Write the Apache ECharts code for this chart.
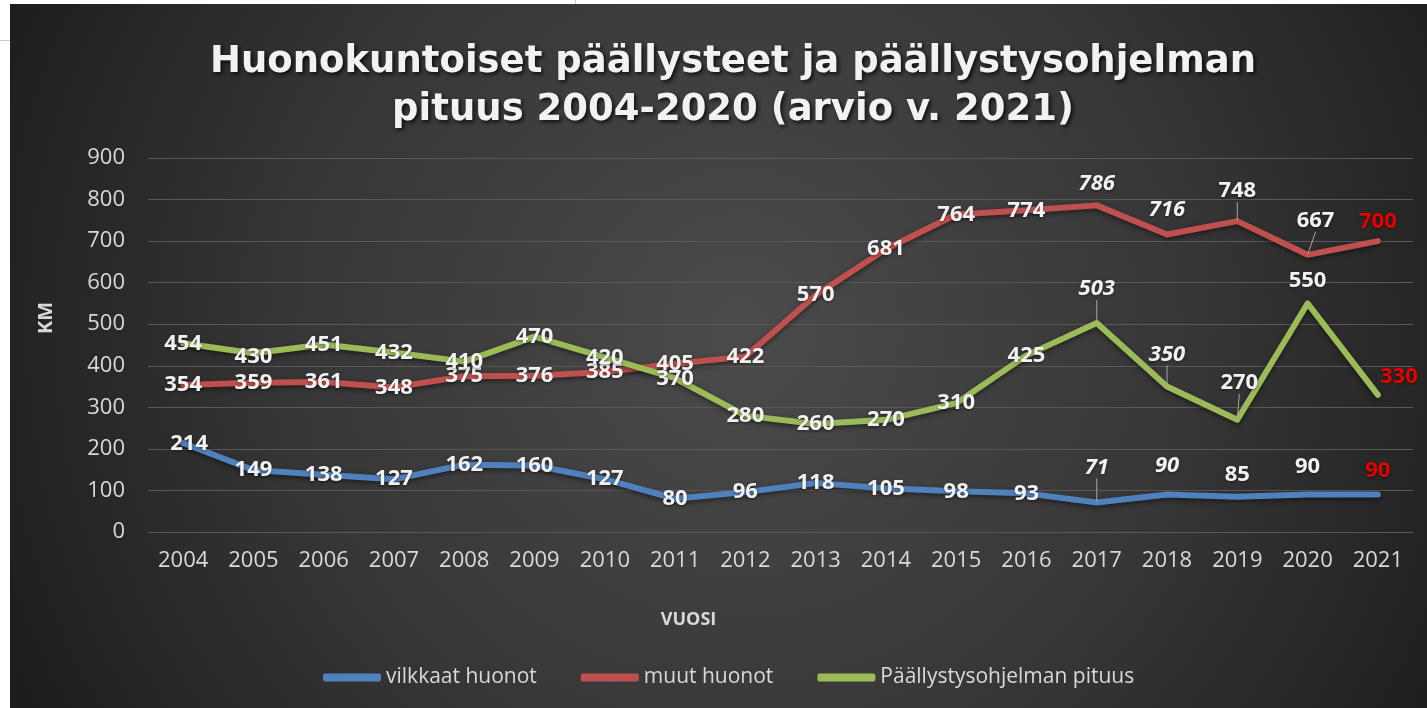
<!DOCTYPE html>
<html>
<head>
<meta charset="utf-8">
<script src="https://cdn.jsdelivr.net/npm/echarts@6/dist/echarts.min.js"></script>
<style>
html,body{margin:0;padding:0;background:#fff;}
#c{position:absolute;left:0;top:0;width:1427px;height:708px;}
</style>
</head>
<body>
<div id="c"></div>
<script>
// ---- data ----
const years = ['2004','2005','2006','2007','2008','2009','2010','2011','2012','2013','2014','2015','2016','2017','2018','2019','2020','2021'];
const vilkkaat = [214,149,138,127,162,160,127,80,96,118,105,98,93,71,90,85,90,90];
const muut = [354,359,361,348,375,376,385,405,422,570,681,764,774,786,716,748,667,700];
const ohjelma = [454,430,451,432,410,470,420,370,280,260,270,310,425,503,350,270,550,330];
const seriesNames = ['vilkkaat huonot','muut huonot','Päällystysohjelman pituus'];
const yTicks = [0,100,200,300,400,500,600,700,800,900];

// ---- label styling (not data) ----
const italicYears = ['2017','2018'];
const redYears = ['2021'];
const labelShift = {
  'vilkkaat huonot': {0:[6,1],13:[0,-35],14:[0,-29],15:[0,-22],16:[0,-28],17:[0,-24]},
  'muut huonot': {13:[0,-22],14:[0,-25],15:[0,-30],16:[8,-34],17:[0,-19]},
  'Päällystysohjelman pituus': {1:[0,3],13:[0,-34],14:[0,-32],15:[2,-37],16:[0,-23],17:[21,-18]}
};
const leaderLines = {
  'vilkkaat huonot': [13],
  'muut huonot': [15,16],
  'Päällystysohjelman pituus': [13,14,15]
};
const colors = ['#4f81bd','#c0504d','#9bbb59'];

const FONT = '"Open Sans", "Noto Sans", sans-serif';

function buildData(name, values) {
  return values.map((v, i) => {
    const y = years[i];
    const item = { value: v, label: {} };
    if (italicYears.includes(y)) item.label.fontStyle = 'italic';
    if (redYears.includes(y)) item.label.color = '#e60000';
    if (leaderLines[name].includes(i)) item.labelLine = { show: true };
    return item;
  });
}

function makeSeries(name, values, color) {
  return {
    name: name,
    type: 'line',
    data: buildData(name, values),
    symbol: 'circle',
    symbolSize: 1,
    showSymbol: true,
    smooth: false,
    lineStyle: { color: color, width: 6, cap: 'round', join: 'round',
      shadowColor: 'rgba(0,0,0,0.5)', shadowBlur: 5, shadowOffsetY: 2 },
    itemStyle: { color: color },
    label: {
      show: true,
      position: 'inside',
      color: '#f2f2f2',
      fontFamily: FONT,
      fontWeight: 'bold',
      fontSize: 22,
      textShadowColor: 'rgba(0,0,0,0.45)',
      textShadowBlur: 3,
      textShadowOffsetY: 1
    },
    labelLine: { show: false, lineStyle: { color: '#a6a6a6', width: 1 }, length2: 0 },
    labelLayout: function (p) {
      const s = labelShift[name][p.dataIndex];
      if (!s) return {};
      return { dx: s[0], dy: s[1] };
    },
    emphasis: { disabled: true }
  };
}

const chart = echarts.init(document.getElementById('c'), null, { renderer: 'canvas' });
chart.setOption({
  backgroundColor: '#ffffff',
  animation: false,
  graphic: [
    { type: 'rect', z: -10, silent: true,
      shape: { x: 10, y: 4, width: 1417, height: 704 },
      style: { fill: { type: 'radial', x: 740, y: 330, r: 820, global: true,
        colorStops: [ { offset: 0, color: '#4b4b4b' }, { offset: 0.55, color: '#363636' }, { offset: 1, color: '#1c1c1c' } ] } } },
    { type: 'rect', z: -10, silent: true, shape: { x: 0, y: 40, width: 10, height: 1 }, style: { fill: '#c8c8c8' } },
    { type: 'rect', z: -10, silent: true, shape: { x: 575, y: 0, width: 1, height: 4 }, style: { fill: '#c8c8c8' } }
  ],
  title: {
    text: 'Huonokuntoiset päällysteet ja päällystysohjelman\npituus 2004-2020 (arvio v. 2021)',
    left: 728,
    textAlign: 'center',
    top: 33,
    textStyle: {
      color: '#f2f2f2', fontFamily: '"DejaVu Sans", sans-serif', fontWeight: 'bold', fontSize: 37, lineHeight: 48,
      textShadowColor: 'rgba(0,0,0,0.8)', textShadowBlur: 4, textShadowOffsetX: 2, textShadowOffsetY: 2
    }
  },
  legend: {
    data: seriesNames,
    left: 318,
    top: 662,
    icon: 'roundRect',
    itemWidth: 58,
    itemHeight: 8,
    itemGap: 44,
    textStyle: { color: '#d9d9d9', fontFamily: FONT, fontSize: 21 }
  },
  grid: { left: 148, right: 14, top: 158, bottom: 176, containLabel: false },
  xAxis: {
    type: 'category',
    data: years,
    boundaryGap: true,
    name: 'VUOSI',
    nameLocation: 'middle',
    nameGap: 79,
    nameTextStyle: { color: '#d9d9d9', fontFamily: FONT, fontWeight: 'bold', fontSize: 18, padding: [0, 184, 0, 0] },
    axisLine: { show: true, lineStyle: { color: '#595959', width: 1 } },
    axisTick: { show: false },
    axisLabel: { color: '#d9d9d9', fontFamily: FONT, fontSize: 22, margin: 18 }
  },
  yAxis: {
    type: 'value',
    min: yTicks[0],
    max: yTicks[yTicks.length - 1],
    interval: 100,
    name: 'KM',
    nameLocation: 'middle',
    nameGap: 92,
    nameRotate: 90,
    nameTextStyle: { color: '#d9d9d9', fontFamily: FONT, fontWeight: 'bold', fontSize: 20, padding: [0, 0, 0, 54] },
    axisLine: { show: false },
    axisTick: { show: false },
    splitLine: { lineStyle: { color: '#595959', width: 1 } },
    axisLabel: { color: '#d9d9d9', fontFamily: FONT, fontSize: 22, margin: 23 }
  },
  series: [
    makeSeries(seriesNames[0], vilkkaat, colors[0]),
    makeSeries(seriesNames[1], muut, colors[1]),
    makeSeries(seriesNames[2], ohjelma, colors[2])
  ]
});
</script>
</body>
</html>
